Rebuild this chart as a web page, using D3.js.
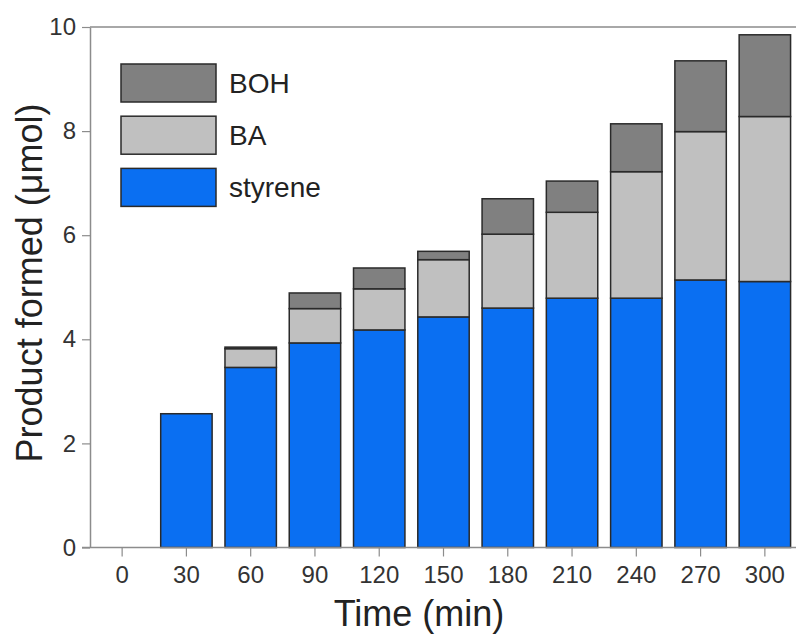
<!DOCTYPE html>
<html>
<head>
<meta charset="utf-8">
<script src="https://cdn.jsdelivr.net/npm/d3@7"></script>
<style>
  html, body { margin: 0; padding: 0; background: #fff; }
  svg { display: block; font-family: Arial, "Liberation Sans", sans-serif; }
</style>
</head>
<body>
<svg id="chart" width="796" height="635"></svg>
<script>
// Sampling times (min)
const times = ["0", "30", "60", "90", "120", "150", "180", "210", "240", "270", "300"];
// Product amounts (µmol) per time point
const styrene = [0, 2.57, 3.46, 3.93, 4.18, 4.43, 4.60, 4.79, 4.79, 5.14, 5.11];
const BA      = [0, 0,    0.36, 0.66, 0.79, 1.10, 1.42, 1.65, 2.43, 2.85, 3.17];
const BOH     = [0, 0,    0.03, 0.30, 0.40, 0.16, 0.68, 0.60, 0.92, 1.36, 1.57];
const seriesKeys = ["styrene", "BA", "BOH"];
const seriesColors = { styrene: "#0a6ff2", BA: "#c0c0c0", BOH: "#808080" };
const yTicks = [0, 2, 4, 6, 8, 10];

const table = times.map((t, i) => ({ time: t, styrene: styrene[i], BA: BA[i], BOH: BOH[i] }));

const svg = d3.select("#chart");
const plotLeft = 90, plotRight = 797, plotTop = 27, plotBottom = 547.5;

const x = d3.scaleBand().domain(times).range([plotLeft, plotRight]).paddingInner(0.2).paddingOuter(0.1);
const y = d3.scaleLinear().domain([0, 10]).range([plotBottom, plotTop]);

// Stacked bars
const stacked = d3.stack().keys(seriesKeys)(table);
svg.append("g").selectAll("g").data(stacked).join("g")
  .attr("fill", d => seriesColors[d.key])
  .selectAll("rect").data(d => d.filter(s => s[1] - s[0] > 0)).join("rect")
  .attr("x", d => x(d.data.time))
  .attr("width", x.bandwidth())
  .attr("y", d => y(d[1]))
  .attr("height", d => y(d[0]) - y(d[1]))
  .attr("stroke", "#2a2a2a")
  .attr("stroke-width", 1.5);

// Top frame line
svg.append("line")
  .attr("x1", plotLeft).attr("x2", 796)
  .attr("y1", y(10)).attr("y2", y(10))
  .attr("stroke", "#a8a8a8").attr("stroke-width", 2);

// Y axis
const yAxis = svg.append("g")
  .attr("transform", `translate(${plotLeft},0)`)
  .call(d3.axisLeft(y).tickValues(yTicks).tickSize(8).tickPadding(6).tickSizeOuter(0));
yAxis.select(".domain").attr("stroke", "#8c8c8c").attr("stroke-width", 1.5);
yAxis.selectAll(".tick line").attr("stroke", "#8c8c8c").attr("stroke-width", 1.2);
yAxis.selectAll(".tick text").attr("fill", "#333").style("font-size", "24px");

// X axis
const xAxis = svg.append("g")
  .attr("transform", `translate(0,${plotBottom})`)
  .call(d3.axisBottom(x).tickSize(9).tickPadding(9).tickSizeOuter(0));
xAxis.select(".domain").attr("stroke", "#8c8c8c").attr("stroke-width", 1.5)
  .attr("d", `M${plotLeft - 8},0H796`);
xAxis.selectAll(".tick line").attr("stroke", "#8c8c8c").attr("stroke-width", 1.2);
xAxis.selectAll(".tick text").attr("fill", "#333").style("font-size", "24px");

// Axis titles
svg.append("text")
  .attr("x", 419).attr("y", 626)
  .attr("text-anchor", "middle")
  .attr("fill", "#222")
  .style("font-size", "36px")
  .text("Time (min)");

svg.append("text")
  .attr("transform", "translate(42,283) rotate(-90)")
  .attr("text-anchor", "middle")
  .attr("fill", "#222")
  .style("font-size", "36px")
  .text("Product formed (μmol)");

// Legend
const legendOrder = ["BOH", "BA", "styrene"];
const legend = svg.append("g").attr("transform", "translate(121,64)");
const item = legend.selectAll("g").data(legendOrder).join("g")
  .attr("transform", (d, i) => `translate(0,${i * 52.2})`);
item.append("rect")
  .attr("width", 95).attr("height", 38)
  .attr("fill", d => seriesColors[d])
  .attr("stroke", "#2a2a2a").attr("stroke-width", 1.5);
item.append("text")
  .attr("x", 108).attr("y", 19)
  .attr("dy", "0.36em")
  .attr("fill", "#222")
  .style("font-size", "28px")
  .text(d => d);
</script>
</body>
</html>
